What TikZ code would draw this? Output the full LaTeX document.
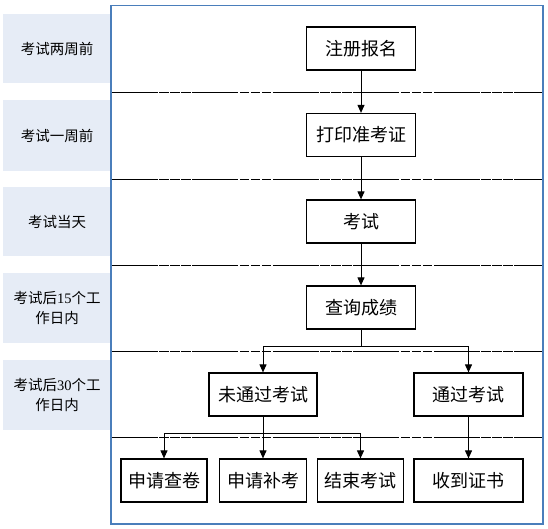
\documentclass[tikz,border=0pt]{standalone}
\usepackage{fontspec}
\setmainfont{Liberation Serif}
\newfontfamily\cjk{Noto Sans CJK SC}
\usetikzlibrary{arrows.meta}
\definecolor{lblfill}{HTML}{E6ECF6}
\definecolor{frameblue}{HTML}{4A7EBB}
\tikzset{
  lbl/.style={fill=lblfill, minimum width=108pt, inner sep=0pt, align=center, font=\fontsize{14.5}{20}\selectfont\cjk},
  flowbox/.style={draw=black, line width=1.2pt, fill=white, minimum height=43pt, inner sep=0pt, font=\fontsize{18}{20}\selectfont\cjk},
  sep/.style={black, line width=0.9pt, dash pattern=on 46pt off 1.5pt on 9.5pt off 1.5pt on 9.5pt off 1.5pt on 9.5pt off 1.5pt},
  arr/.style={black, line width=1pt, -{Triangle[width=7pt,length=8pt]}}
}
\begin{document}
\begin{tikzpicture}[x=1pt,y=-1pt]
\useasboundingbox (0,0) rectangle (548,529);
% left labels
\node[lbl, minimum height=69pt] (l1) at (57,48.5) {考试两周前};
\node[lbl, minimum height=71pt] (l2) at (57,135.5) {考试一周前};
\node[lbl, minimum height=69pt] (l3) at (57,221.5) {考试当天};
\node[lbl, minimum height=70pt] (l4) at (57,308) {考试后{\rmfamily 15}个工\\作日内};
\node[lbl, minimum height=70pt] (l5) at (57,395) {考试后{\rmfamily 30}个工\\作日内};
% frame and separators
\draw[frameblue, line width=1.5pt] (111,5.5) rectangle (543,524);
\foreach \yy in {92,179,265,351,437} {
  \draw[sep] (111.75,\yy) -- (542.25,\yy);
}
% flow boxes
\node[flowbox, minimum width=109pt] (n1) at (361,48.5) {注册报名};
\node[flowbox, minimum width=109pt] (n2) at (361,135) {打印准考证};
\node[flowbox, minimum width=109pt] (n3) at (361,221.5) {考试};
\node[flowbox, minimum width=109pt] (n4) at (361,307.5) {查询成绩};
\node[flowbox, minimum width=108pt] (fail) at (263,394.5) {未通过考试};
\node[flowbox, minimum width=109pt] (pass) at (468.5,394.5) {通过考试};
\node[flowbox, minimum width=86pt] (a1) at (164,480.5) {申请查卷};
\node[flowbox, minimum width=87pt] (a2) at (263,480.5) {申请补考};
\node[flowbox, minimum width=86pt] (a3) at (360.5,480.5) {结束考试};
\node[flowbox, minimum width=109pt] (a4) at (468.5,480.5) {收到证书};
% connectors
\draw[arr] (n1) -- (n2);
\draw[arr] (n2) -- (n3);
\draw[arr] (n3) -- (n4);
\coordinate (b1) at (361,346);
\coordinate (b2) at (263,433);
\draw[arr] (n4.south) -- (b1) -| (fail.north);
\draw[arr] (b1) -| (pass.north);
\draw[arr] (fail.south) -- (a2.north);
\draw[arr] (b2) -| (a1.north);
\draw[arr] (b2) -| (a3.north);
\draw[arr] (pass) -- (a4);
\end{tikzpicture}
\end{document}
